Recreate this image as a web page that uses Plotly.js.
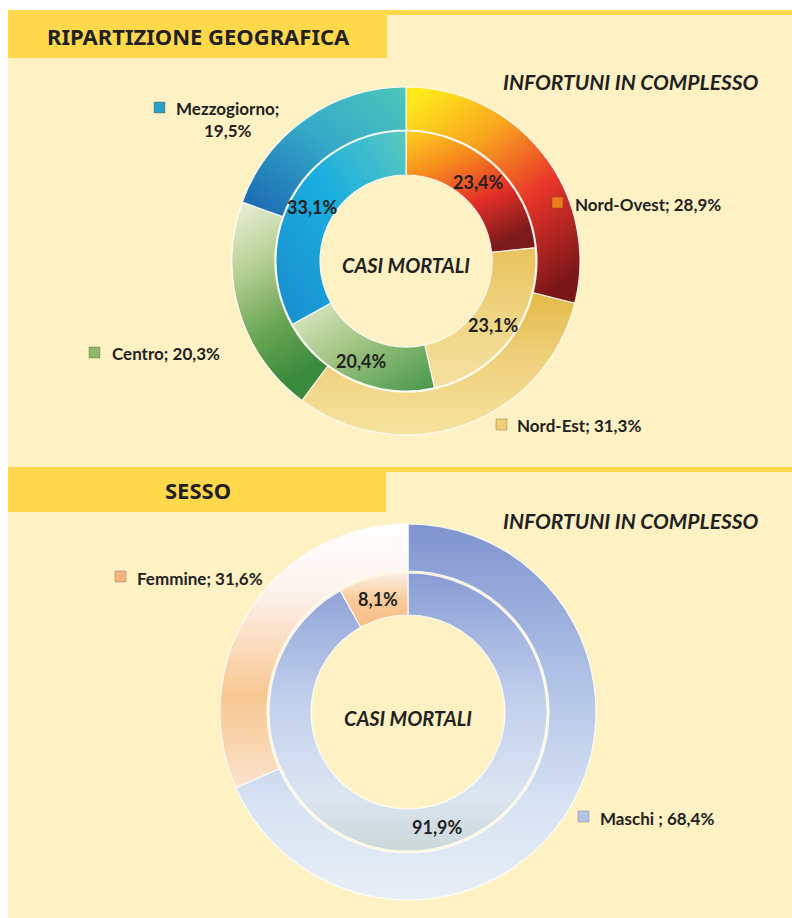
<!DOCTYPE html>
<html>
<head>
<meta charset="utf-8">
<script src="https://cdn.plot.ly/plotly-3.0.1.min.js"></script>
<style>
  html, body { margin: 0; padding: 0; background: #ffffff; }
  #chart { width: 792px; height: 918px; }
</style>
</head>
<body>
<div id="chart"></div>
<script>
// ---------------- DATA ----------------
const regionLabels = ['Nord-Ovest', 'Nord-Est', 'Centro', 'Mezzogiorno'];
const regionComplessoPct = [28.9, 31.3, 20.3, 19.5];   // outer ring: INFORTUNI IN COMPLESSO
const regionMortaliPct   = [23.4, 23.1, 20.4, 33.1];   // inner ring: CASI MORTALI

const sexLabels = ['Maschi ', 'Femmine'];
const sexComplessoPct = [68.4, 31.6];                  // outer ring
const sexMortaliPct   = [91.9, 8.1];                   // inner ring

const section1Title = 'RIPARTIZIONE GEOGRAFICA';
const section2Title = 'SESSO';
const outerRingTitle = 'INFORTUNI IN COMPLESSO';
const innerRingTitle = 'CASI MORTALI';

// ---------------- STYLE ----------------
const W = 792, H = 918;
const px = x => x / W;
const py = y => 1 - y / H;
const FONT = 'Lato, "Open Sans", "Noto Sans", sans-serif';
const HEAD_FONT = '"Noto Sans", "Open Sans", sans-serif';
const INK = '#231F20';
const CREAM = '#FEF1C4';
const YELLOW = '#FFD84C';

const regionColors = ['#F07A22', '#EFD077', '#8DBA6A', '#2A9FCB'];
const sexColors = ['#B9C8E8', '#F8CDA3'];

// ring geometry (pixels): centre, outer radius, ring boundary, hole radius
const geo = { cx: 406, cy: 261, rOut: 174, rOuterHole: 131, rIn: 130, rHole: 86 };
const sex = { cx: 408, cy: 712, rOut: 188, rOuterHole: 141, rIn: 139, rHole: 97 };

// gradients per trace (0: geo outer, 1: geo inner, 2: sex outer, 3: sex inner), per slice
const gradients = [
  [
    [0.15, 0, 0.75, 1, [[0, '#FFE81C'], [0.3, '#F9A51E'], [0.62, '#E8352A'], [1, '#7C1718']]],
    [0, 0, 0, 1, [[0, '#E3B947'], [0.45, '#EFD07A'], [1, '#F6E3A0']]],
    [0, 0, 0.3, 1, [[0, '#EEF1DC'], [0.35, '#B7D094'], [0.7, '#68A552'], [1, '#3A8A3C']]],
    [1, 0, 0, 1, [[0, '#4FC5BB'], [0.45, '#35ABC8'], [1, '#1964B1']]]
  ],
  [
    [0.1, 0, 0.6, 1, [[0, '#FFC81E'], [0.3, '#F7891E'], [0.65, '#E42F28'], [1, '#7A1A1A']]],
    [0, 0, 0, 1, [[0, '#E9C35C'], [0.5, '#F0D584'], [1, '#F5E0A0']]],
    [0, 0, 1, 1, [[0, '#E3EBCB'], [0.45, '#A2C582'], [1, '#46964A']]],
    [1, 0, 0, 1, [[0, '#5DC8BE'], [0.45, '#1AAEDF'], [1, '#1A8CCD']]]
  ],
  [
    [0, 0, 0, 1, [[0, '#7F94CF'], [0.35, '#A8BBE3'], [0.75, '#D8E3F3'], [1, '#E8EEF6']]],
    [0, 0, 0, 1, [[0, '#FFFFFF'], [0.25, '#FCF3EE'], [0.65, '#F8C791'], [1, '#FAE3CB']]]
  ],
  [
    [0, 0, 0, 1, [[0, '#889CD4'], [0.45, '#C0CFEC'], [0.8, '#DCE5F1'], [1, '#CBD8D8']]],
    [0, 0, 0, 1, [[0, '#FCEFE4'], [0.5, '#F9CB98'], [1, '#F6BD86']]]
  ]
];

const fmt = v => v.toFixed(1).replace('.', ',');

// ---------------- TRACES ----------------
const lineStyle = { color: 'rgba(255,255,255,0.85)', width: 1.2 };
const common = {
  type: 'pie', sort: false, direction: 'clockwise', rotation: 0,
  hoverinfo: 'skip', showlegend: false, textinfo: 'none'
};
function dom(g, r) {
  return { x: [px(g.cx - r), px(g.cx + r)], y: [py(g.cy + r), py(g.cy - r)] };
}

const traces = [
  Object.assign({}, common, {
    labels: regionLabels, values: regionComplessoPct,
    hole: geo.rOuterHole / geo.rOut,
    marker: { colors: regionColors, line: lineStyle },
    domain: dom(geo, geo.rOut)
  }),
  Object.assign({}, common, {
    labels: regionLabels, values: regionMortaliPct,
    hole: geo.rHole / geo.rIn,
    marker: { colors: regionColors, line: lineStyle },
    domain: dom(geo, geo.rIn)
  }),
  Object.assign({}, common, {
    labels: sexLabels, values: sexComplessoPct,
    hole: sex.rOuterHole / sex.rOut,
    marker: { colors: sexColors, line: lineStyle },
    domain: dom(sex, sex.rOut)
  }),
  Object.assign({}, common, {
    labels: sexLabels, values: sexMortaliPct,
    hole: sex.rHole / sex.rIn,
    marker: { colors: sexColors, line: lineStyle },
    domain: dom(sex, sex.rIn)
  })
];

// ---------------- LAYOUT ----------------
function rect(x0, y0, x1, y1, color) {
  return { type: 'rect', xref: 'paper', yref: 'paper', layer: 'below',
    x0: px(x0), x1: px(x1), y0: py(y1), y1: py(y0),
    fillcolor: color, line: { width: 0 } };
}
const shapes = [
  rect(8, 10, 792, 918, CREAM),
  rect(8, 10, 792, 15, YELLOW),
  rect(8, 10, 387, 58, YELLOW),
  rect(8, 467, 792, 472, YELLOW),
  rect(8, 467, 386, 512, YELLOW)
];

function ann(text, x, y, opts) {
  return Object.assign({
    text: text, xref: 'paper', yref: 'paper', x: px(x), y: py(y),
    showarrow: false, xanchor: 'left', yanchor: 'middle',
    font: { family: FONT, size: 17, color: INK, weight: 'bold' }
  }, opts || {});
}

const headFont = { family: HEAD_FONT, size: 22, color: INK, weight: 'bold' };
const titleFont = { family: FONT, size: 21, color: INK, weight: 'bold', style: 'italic' };
const annotations = [
  ann(section1Title, 198, 36, { xanchor: 'center', font: headFont }),
  ann(section2Title, 198, 490, { xanchor: 'center', font: headFont }),
  ann(outerRingTitle, 631, 81, { xanchor: 'center', font: titleFont }),
  ann(outerRingTitle, 631, 520, { xanchor: 'center', font: titleFont }),
  ann(innerRingTitle, geo.cx, 265, { xanchor: 'center', font: Object.assign({}, titleFont, { size: 20 }) }),
  ann(innerRingTitle, sex.cx, 718, { xanchor: 'center', font: Object.assign({}, titleFont, { size: 20 }) })
];

// inner-ring value labels at each slice's mid angle (clockwise from 12 o'clock)
function ringLabels(values, g) {
  const total = values.reduce((a, b) => a + b, 0);
  const r = (g.rIn + g.rHole) / 2;
  let cum = 0;
  values.forEach(v => {
    const mid = (cum + v / 2) / total * 2 * Math.PI;
    cum += v;
    annotations.push(ann(fmt(v) + '%', g.cx + r * Math.sin(mid), g.cy - r * Math.cos(mid) + 1,
      { xanchor: 'center', font: { family: FONT, size: 18, color: INK, weight: 'bold' } }));
  });
}
ringLabels(regionMortaliPct, geo);
ringLabels(sexMortaliPct, sex);

// outer-ring labels with legend keys: [textX, textY, iconX, iconY]
const regionLabelPos = [
  [573, 204, 552, 197], [515, 425, 496, 419], [110, 353, 89, 347], [227, 119, 154, 102]
];
regionLabels.forEach((name, i) => {
  const p = regionLabelPos[i];
  if (name === 'Mezzogiorno') {
    annotations.push(ann(name + ';<br>' + fmt(regionComplessoPct[i]) + '%', p[0], p[1], { xanchor: 'center', align: 'center' }));
  } else {
    annotations.push(ann(name + '; ' + fmt(regionComplessoPct[i]) + '%', p[0], p[1]));
  }
  shapes.push({ type: 'rect', xref: 'paper', yref: 'paper',
    x0: px(p[2]), x1: px(p[2] + 11), y0: py(p[3] + 11), y1: py(p[3]),
    fillcolor: regionColors[i], line: { color: 'rgba(80,60,30,0.5)', width: 0.6 } });
});
const sexLabelPos = [[598, 818, 578, 811], [135, 578, 115, 571]];
sexLabels.forEach((name, i) => {
  const p = sexLabelPos[i];
  annotations.push(ann(name + '; ' + fmt(sexComplessoPct[i]) + '%', p[0], p[1]));
  shapes.push({ type: 'rect', xref: 'paper', yref: 'paper',
    x0: px(p[2]), x1: px(p[2] + 11), y0: py(p[3] + 11), y1: py(p[3]),
    fillcolor: i === 0 ? '#B4C3E6' : '#F6B37E', line: { color: 'rgba(80,80,100,0.5)', width: 0.6 } });
});

const layout = {
  width: W, height: H,
  margin: { l: 0, r: 0, t: 0, b: 0 },
  paper_bgcolor: '#ffffff',
  separators: ',.',
  shapes: shapes,
  annotations: annotations,
  font: { family: FONT, color: INK }
};

Plotly.newPlot('chart', traces, layout, { staticPlot: true, displayModeBar: false }).then(gd => {
  const NS = 'http://www.w3.org/2000/svg';
  const svg = gd.querySelector('.main-svg');
  let defs = svg.querySelector('defs');
  if (!defs) { defs = document.createElementNS(NS, 'defs'); svg.insertBefore(defs, svg.firstChild); }
  gd.querySelectorAll('.pielayer .trace').forEach((t, ti) => {
    t.querySelectorAll('.slice').forEach((s, si) => {
      const g = gradients[ti] && gradients[ti][si];
      if (!g) return;
      const id = 'grad_' + ti + '_' + si;
      const lg = document.createElementNS(NS, 'linearGradient');
      lg.setAttribute('id', id);
      lg.setAttribute('x1', g[0]); lg.setAttribute('y1', g[1]);
      lg.setAttribute('x2', g[2]); lg.setAttribute('y2', g[3]);
      g[4].forEach(st => {
        const stop = document.createElementNS(NS, 'stop');
        stop.setAttribute('offset', st[0]);
        stop.setAttribute('stop-color', st[1]);
        lg.appendChild(stop);
      });
      defs.appendChild(lg);
      const p = s.querySelector('path.surface') || s.querySelector('path');
      if (p) p.style.fill = 'url(#' + id + ')';
    });
  });
});
</script>
</body>
</html>
